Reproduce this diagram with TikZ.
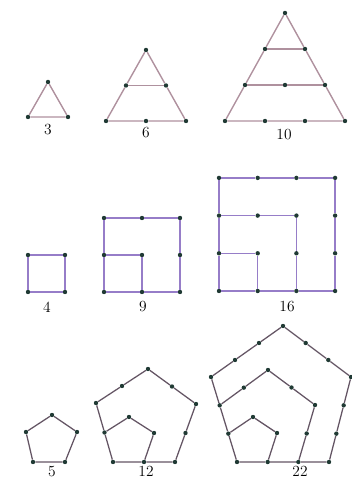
\documentclass[tikz,border=0pt]{standalone}
\usepackage{tikz}
\usetikzlibrary{calc}
\definecolor{dotcol}{RGB}{32,58,52}
\definecolor{triline}{RGB}{175,145,158}
\definecolor{sqline}{RGB}{150,125,200}
\definecolor{pentline}{RGB}{100,85,100}

\begin{document}
\begin{tikzpicture}[
    x=0.25mm,y=0.25mm,
    vtx/.style={circle,fill=dotcol,minimum size=1.1mm,inner sep=0pt},
    tri/.style={triline,line width=1pt},
    sq/.style={sqline,line width=1.1pt},
    pent/.style={pentline,line width=0.9pt},
    num/.style={font=\fontsize{11}{13}\selectfont,inner sep=0pt}
]
\useasboundingbox (0,0) rectangle (352,478);

% triangular numbers
\node[vtx] (ta) at (48,396) {};
\node[vtx] (tb) at (28,361) {};
\node[vtx] (tc) at (68,361) {};
\draw[tri] (ta) -- (tb) -- (tc) -- (ta);
\node[num] (l3) at (48,348) {3};

\foreach \r in {1,2,3}
  \foreach \k in {1,...,\r}
    \node[vtx] (u\r\k) at ({146+(2*\k-\r-1)*20},{428-(\r-1)*35.5}) {};
\draw[tri] (u11) -- (u21) -- (u31) -- (u32) -- (u33) -- (u22) -- (u11);
\draw[tri] (u21) -- (u22);
\node[num] (l6) at (146,345) {6};

\foreach \r in {1,...,4}
  \foreach \k in {1,...,\r}
    \node[vtx] (v\r\k) at ({285+(2*\k-\r-1)*20},{465-(\r-1)*36}) {};
\draw[tri] (v11) -- (v21) -- (v31) -- (v41) -- (v42) -- (v43) -- (v44) -- (v33) -- (v22) -- (v11);
\draw[tri] (v21) -- (v22);
\draw[tri] (v31) -- (v32) -- (v33);
\node[num] (l10) at (284,343) {10};

% square numbers
\node[vtx] (q00) at (28,186) {};
\node[vtx] (q10) at (65,186) {};
\node[vtx] (q11) at (65,223) {};
\node[vtx] (q01) at (28,223) {};
\draw[sq] (q00) -- (q10) -- (q11) -- (q01) -- (q00);
\node[num] (l4) at (47,171) {4};

\foreach \i in {0,1,2}
  \foreach \j in {0,1,2}
    \node[vtx] (m\i\j) at ({104+38*\i},{186+37*\j}) {};
\draw[sq] (m00) -- (m10) -- (m20) -- (m21) -- (m22) -- (m12) -- (m02) -- (m01) -- (m00);
\draw[sq] (m01) -- (m11) -- (m10);
\node[num] (l9) at (143,171) {9};

\foreach \i in {0,...,3}
  \foreach \j in {0,...,3}
    \node[vtx] (k\i\j) at ({219+38.7*\i},{187+37.7*\j}) {};
\draw[sq] (k00) -- (k10) -- (k20) -- (k30) -- (k31) -- (k32) -- (k33) -- (k23) -- (k13) -- (k03) -- (k02) -- (k01) -- (k00);
\draw[sq] (k02) -- (k12) -- (k22) -- (k21) -- (k20);
\draw[sq] (k01) -- (k11) -- (k10);
\node[num] (l16) at (287,171) {16};

% pentagonal numbers
\node[vtx] (f1) at (33,16) {};
\node[vtx] (f2) at (65,16) {};
\node[vtx] (f3) at (77,46) {};
\node[vtx] (f4) at (52,63) {};
\node[vtx] (f5) at (26,46) {};
\draw[pent] (f1) -- (f2) -- (f3) -- (f4) -- (f5) -- (f1);
\node[num] (l5) at (52,6.5) {5};

\coordinate (gA) at (113,16);
\coordinate (gB) at (175,16);
\coordinate (gC) at (196,74);
\coordinate (gD) at (148,109);
\coordinate (gE) at (96,75);
\foreach \p/\q [count=\i] in {gA/gB,gB/gC,gC/gD,gD/gE,gE/gA} {
  \node[vtx] (g\i) at (\p) {};
  \node[vtx] (gm\i) at ($(\p)!0.5!(\q)$) {};
}
\node[vtx] (gi3) at (154,45) {};
\node[vtx] (gi4) at (129,61) {};
\draw[pent] (g1) -- (gm1) -- (g2) -- (gm2) -- (g3) -- (gm3) -- (g4) -- (gm4) -- (g5) -- (gm5) -- (g1);
\draw[pent] (gm1) -- (gi3) -- (gi4) -- (gm5);
\node[num] (l12) at (146,6.5) {12};

\coordinate (hA) at (237,16);
\coordinate (hB) at (329,16);
\coordinate (hC) at (351,101);
\coordinate (hD) at (283,152);
\coordinate (hE) at (211,101);
\foreach \p/\q [count=\i] in {hA/hB,hB/hC,hC/hD,hD/hE,hE/hA} {
  \node[vtx] (h\i) at (\p) {};
  \node[vtx] (ha\i) at ($(\p)!1/3!(\q)$) {};
  \node[vtx] (hb\i) at ($(\p)!2/3!(\q)$) {};
}
\node[vtx] (mR) at (315,73) {};
\node[vtx] (mT) at (268,108) {};
\node[vtx] (mm2) at ($(hb1)!0.5!(mR)$) {};
\node[vtx] (mm3) at ($(mR)!0.5!(mT)$) {};
\node[vtx] (mm4) at ($(mT)!0.5!(ha5)$) {};
\node[vtx] (iR) at (277,45) {};
\node[vtx] (iT) at (253,61) {};
\draw[pent] (h1) -- (ha1) -- (hb1) -- (h2) -- (ha2) -- (hb2) -- (h3) -- (ha3) -- (hb3) -- (h4) -- (ha4) -- (hb4) -- (h5) -- (ha5) -- (hb5) -- (h1);
\draw[pent] (hb1) -- (mm2) -- (mR) -- (mm3) -- (mT) -- (mm4) -- (ha5);
\draw[pent] (ha1) -- (iR) -- (iT) -- (hb5);
\node[num] (l22) at (300,6.5) {22};
\end{tikzpicture}
\end{document}
